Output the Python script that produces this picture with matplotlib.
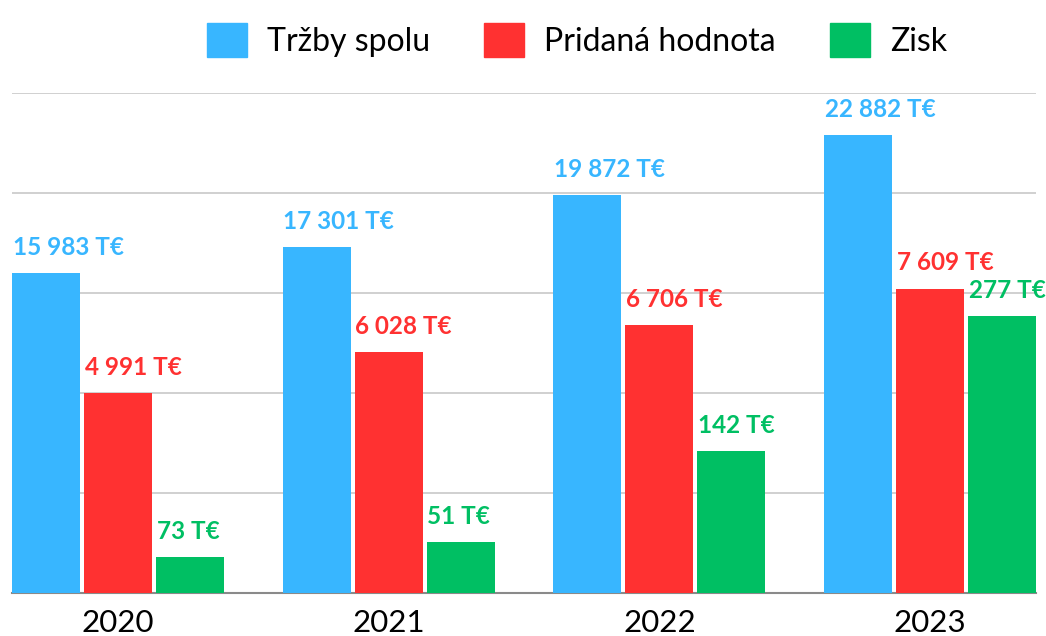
import matplotlib
matplotlib.use("Agg")
import matplotlib.pyplot as plt
from matplotlib.patches import Patch
import numpy as np

years = ["2020", "2021", "2022", "2023"]
trzby = [15983, 17301, 19872, 22882]
pridana = [4991, 6028, 6706, 7609]
zisk_labels = [73, 51, 142, 277]
zisk_heights = [36, 51, 142, 277]  # bar heights as drawn in the reference
series_names = ["Tržby spolu", "Pridaná hodnota", "Zisk"]

BLUE = "#38B6FF"
RED = "#FF3131"
GREEN = "#00BF63"

plt.rcParams['font.family'] = ['Lato', 'DejaVu Sans']

fig = plt.figure(figsize=(10.46, 6.36), dpi=100)
ax = fig.add_axes([12 / 1046, (636 - 593.3) / 636, 1024 / 1046, 500.6 / 636])
ax2 = ax.twinx()
ax3 = ax.twinx()

x = np.arange(len(years))
w = 0.251
step = 0.266

def fmt(v):
    return f"{v:,}".replace(",", " ") + " T€"

b1 = ax.bar(x - step, trzby, w, color=BLUE, zorder=3)
b2 = ax2.bar(x, pridana, w, color=RED, zorder=3)
b3 = ax3.bar(x + step, zisk_heights, w, color=GREEN, zorder=3)

ax.set_ylim(0, 25000)
ax2.set_ylim(0, 12500)
ax3.set_ylim(0, 500)
for a in (ax, ax2, ax3):
    a.set_xlim(-0.391, 3.391)

for a, bars, vals, col in ((ax, b1, trzby, BLUE), (ax2, b2, pridana, RED), (ax3, b3, zisk_labels, GREEN)):
    for rect, v in zip(bars, vals):
        a.annotate(fmt(v), xy=(rect.get_x(), rect.get_height()),
                   xytext=(0.5, 18.5), textcoords="offset points",
                   ha="left", va="center", color=col,
                   fontsize=17.5, fontweight="bold")

ax.set_yticks([5000, 10000, 15000, 20000, 25000])
ax.yaxis.grid(True, color="#c8c8c8", linewidth=1.2)
ax.set_axisbelow(True)
ax.tick_params(axis="y", left=False, labelleft=False)
ax.set_xticks(x)
ax.set_xticklabels(years, fontsize=22.5)
ax.tick_params(axis="x", length=0, pad=11)
for a in (ax2, ax3):
    a.set_yticks([])
    a.tick_params(axis="both", length=0, labelbottom=False, labelright=False)
    for s in a.spines.values():
        s.set_visible(False)
for s in ("top", "left", "right"):
    ax.spines[s].set_visible(False)
ax.spines["bottom"].set_color("#8a8a8a")
ax.spines["bottom"].set_linewidth(1.5)

handles = [Patch(color=c) for c in (BLUE, RED, GREEN)]
fig.legend(handles, series_names, loc="center", bbox_to_anchor=(577 / 1046, 1 - 40 / 636),
           ncol=3, frameon=False, fontsize=23, handlelength=1.25, handleheight=1.25,
           handletextpad=0.63, columnspacing=1.69)

fig.savefig("out.png", dpi=100)
